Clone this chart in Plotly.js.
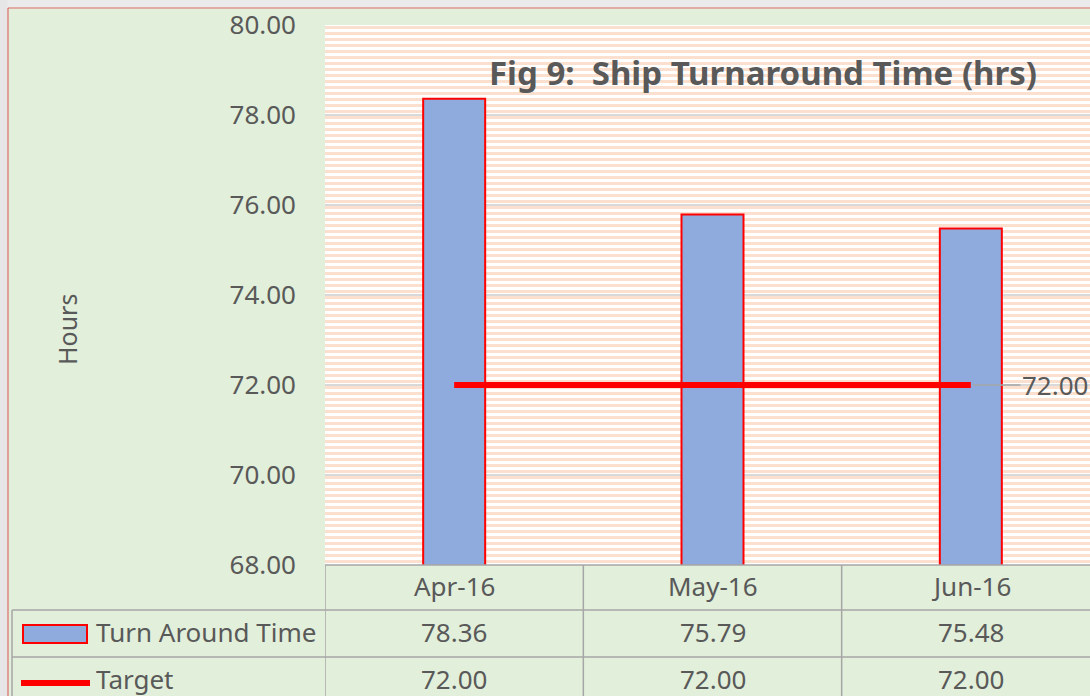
<!DOCTYPE html>
<html>
<head>
<meta charset="utf-8">
<script src="https://cdn.plot.ly/plotly-3.0.1.min.js"></script>
<style>
  html, body { margin:0; padding:0; overflow:hidden; background:#e2efda; width:1090px; height:696px; }
  #chart { position:absolute; left:0; top:0; width:1110px; height:700px; }
</style>
</head>
<body>
<div id="chart"></div>
<script>
// ---- data ----
const categories = ['Apr-16', 'May-16', 'Jun-16'];
const turnAroundTime = [78.36, 75.79, 75.48];
const target = [72.00, 72.00, 72.00];
const seriesNames = ['Turn Around Time', 'Target'];
const yTickVals = [68, 70, 72, 74, 76, 78, 80];
const titleText = 'Fig 9:  Ship Turnaround Time (hrs)';
const yTitle = 'Hours';

// ---- layout geometry (page pixels) ----
const FW = 1110, FH = 700;
const PL = 325, PR = 1100, PT = 25, PB = 565;
const W = PR - PL, H = PB - PT;
const px = x => (x - PL) / W;  // page x -> paper
const py = y => (PB - y) / H;  // page y -> paper

const textColor = '#595959';
const gridLine = '#a6a6a6';
const FONT = 'Noto Sans, Open Sans, sans-serif';
const TS = 26;

const shapes = [];
// window chrome: grey strips and thin red chart border
shapes.push({type:'rect', xref:'paper', yref:'paper', x0:px(0), x1:px(FW), y0:py(0), y1:py(7.5),
  fillcolor:'#ebebeb', line:{width:0}});
shapes.push({type:'rect', xref:'paper', yref:'paper', x0:px(0), x1:px(7.5), y0:py(0), y1:py(FH),
  fillcolor:'#e6e6e6', line:{width:0}});
shapes.push({type:'line', xref:'paper', yref:'paper', x0:px(8), x1:px(FW), y0:py(8), y1:py(8),
  line:{color:'#e06a6a', width:1.2}});
shapes.push({type:'line', xref:'paper', yref:'paper', x0:px(8), x1:px(8), y0:py(8), y1:py(FH),
  line:{color:'#e06a6a', width:1.2}});
// horizontal stripes in plot area
for (let y = PT + 1; y < PB; y += 6) {
  shapes.push({type:'rect', xref:'paper', yref:'paper', layer:'below',
    x0:0, x1:1, y0:py(y), y1:py(Math.min(y + 3, PB)),
    fillcolor:'#fbdfcf', line:{width:0}});
}
// data table grid
const R1 = 610, R2 = 657;
const hl = (x0, x1, y) => shapes.push({type:'line', xref:'paper', yref:'paper', layer:'above',
  x0:px(x0), x1:px(x1), y0:py(y), y1:py(y), line:{color:gridLine, width:1.5}});
hl(PL, PR, PB);
hl(12, PR, R1);
hl(12, PR, R2);
shapes.push({type:'line', xref:'paper', yref:'paper', x0:px(12), x1:px(12), y0:py(R1), y1:py(FH + 10), line:{color:gridLine, width:1.5}});
for (let i = 0; i <= categories.length; i++) {
  shapes.push({type:'line', xref:'x', yref:'paper', x0:i - 0.5, x1:i - 0.5, y0:0, y1:py(FH + 10),
    line:{color:gridLine, width:1.5}});
}
// legend keys inside the table
shapes.push({type:'rect', xref:'paper', yref:'paper', x0:px(23), x1:px(87), y0:py(625), y1:py(643),
  fillcolor:'#8faadc', line:{color:'#ff0000', width:2}});
shapes.push({type:'line', xref:'paper', yref:'paper', x0:px(21), x1:px(90), y0:py(683), y1:py(683),
  line:{color:'#ff0000', width:6}});

const ann = (o) => Object.assign({showarrow:false, xanchor:'center', yanchor:'middle'}, o);
const annotations = [];
annotations.push(ann({text:'<b>' + titleText + '</b>', xref:'paper', yref:'paper', x:px(763), y:py(72),
  font:{family:FONT, size:33, color:textColor}}));
annotations.push(ann({text:yTitle, xref:'paper', yref:'paper', x:px(67), y:py(330), textangle:-90,
  font:{family:FONT, size:25, color:textColor}}));
categories.forEach((c, i) => {
  annotations.push(ann({text:c, xref:'x', yref:'paper', x:c, y:py(586),
    font:{family:FONT, size:TS, color:textColor}}));
  annotations.push(ann({text:turnAroundTime[i].toFixed(2), xref:'x', yref:'paper', x:c, y:py(632),
    font:{family:FONT, size:TS, color:textColor}}));
  annotations.push(ann({text:target[i].toFixed(2), xref:'x', yref:'paper', x:c, y:py(679),
    font:{family:FONT, size:TS, color:textColor}}));
});
annotations.push(ann({text:seriesNames[0], xref:'paper', yref:'paper', x:px(94), y:py(632), xanchor:'left',
  font:{family:FONT, size:TS, color:textColor}}));
annotations.push(ann({text:seriesNames[1], xref:'paper', yref:'paper', x:px(94), y:py(679), xanchor:'left',
  font:{family:FONT, size:TS, color:textColor}}));
// data label on last target point
const last = categories.length - 1;
annotations.push({text:target[last].toFixed(2), xref:'x', yref:'y', x:categories[last], y:target[last],
  showarrow:true, arrowhead:0, arrowwidth:1.5, arrowcolor:'#a6a6a6', ax:84, ay:0, standoff:2,
  xanchor:'center', yanchor:'middle',
  font:{family:FONT, size:TS, color:textColor}});

const traces = [
  {type:'bar', x:categories, y:turnAroundTime, name:seriesNames[0], width:0.24,
   marker:{color:'#8faadc', line:{color:'#ff0000', width:2}}, hoverinfo:'skip'},
  {type:'scatter', mode:'lines', x:categories, y:target, name:seriesNames[1],
   line:{color:'#ff0000', width:6}, hoverinfo:'skip'}
];

const layout = {
  width:FW, height:FH,
  margin:{l:PL, r:FW - PR, t:PT, b:FH - PB, pad:0},
  paper_bgcolor:'#e2efda', plot_bgcolor:'#ffffff',
  showlegend:false,
  bargap:0,
  xaxis:{type:'category', range:[-0.5, categories.length - 0.5], showticklabels:false,
         showgrid:false, zeroline:false, showline:false, ticks:''},
  yaxis:{range:[68, 80], tickvals:yTickVals, tickformat:'.2f', showgrid:true,
         gridcolor:'#d9d9d9', gridwidth:2, zeroline:false, showline:false, ticks:'',
         ticklabeloverflow:'allow',
         ticklabelstandoff:28, tickfont:{family:FONT, size:TS, color:textColor}},
  shapes:shapes, annotations:annotations
};

Plotly.newPlot('chart', traces, layout, {displayModeBar:false, staticPlot:true});
</script>
</body>
</html>
